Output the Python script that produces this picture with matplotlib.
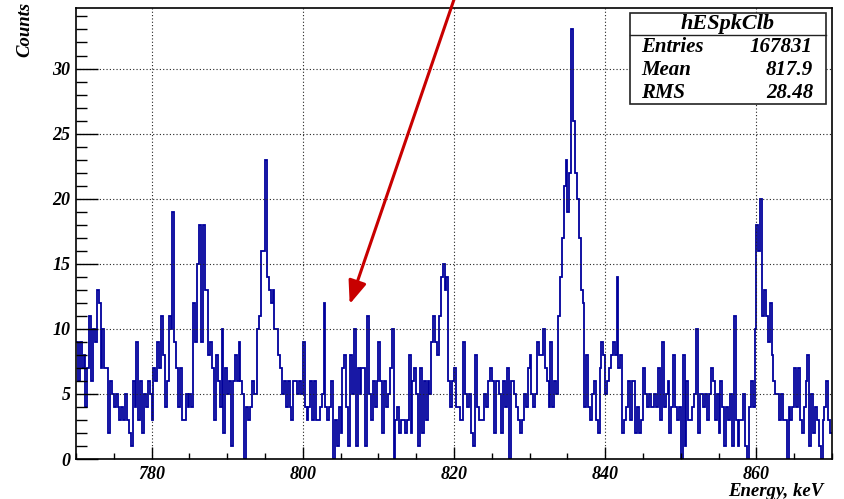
import numpy as np
import matplotlib
matplotlib.use("Agg")
import matplotlib.pyplot as plt
from matplotlib.ticker import MultipleLocator

plt.rcParams['font.family'] = ['Liberation Serif', 'DejaVu Serif']

# energy window and bin width, keV
e_lo, e_hi = 770.0, 870.0
bin_w = 0.25

# counts per 0.25 keV bin, 770..870 keV (20 bins per row = 5 keV)
counts = [
    9, 6, 9, 7, 8, 4, 7, 11, 6, 10, 9, 13, 12, 7, 10, 7, 7, 2, 6, 5,
    4, 5, 4, 3, 4, 3, 5, 3, 2, 1, 6, 4, 9, 3, 6, 2, 5, 4, 6, 5,
    3, 7, 6, 9, 7, 11, 8, 4, 6, 11, 10, 19, 9, 7, 4, 7, 3, 3, 5, 4,
    5, 4, 12, 9, 15, 18, 9, 18, 13, 13, 8, 9, 7, 3, 8, 6, 4, 10, 2, 7,
    5, 6, 1, 6, 8, 6, 9, 6, 5, 0, 4, 3, 4, 6, 5, 5, 10, 11, 16, 16,
    23, 14, 13, 12, 13, 10, 10, 8, 7, 5, 6, 4, 6, 4, 3, 6, 6, 5, 6, 5,
    9, 4, 3, 4, 6, 3, 6, 3, 3, 4, 5, 12, 4, 3, 4, 6, 0, 3, 1, 4,
    2, 7, 8, 4, 1, 8, 5, 10, 1, 7, 5, 7, 7, 1, 11, 5, 3, 6, 4, 6,
    9, 6, 2, 6, 4, 5, 7, 10, 0, 3, 4, 2, 3, 3, 2, 3, 8, 2, 6, 7,
    5, 1, 7, 2, 6, 3, 6, 5, 9, 11, 9, 8, 11, 14, 15, 13, 14, 6, 4, 6,
    7, 4, 4, 3, 3, 9, 5, 4, 5, 2, 1, 8, 4, 3, 3, 3, 5, 4, 6, 7,
    6, 2, 6, 6, 5, 2, 6, 4, 7, 0, 6, 6, 5, 4, 3, 2, 3, 5, 4, 7,
    8, 5, 4, 5, 9, 8, 8, 10, 7, 6, 4, 9, 4, 6, 5, 11, 14, 17, 21, 23,
    19, 22, 33, 26, 22, 20, 17, 13, 12, 4, 8, 4, 3, 5, 6, 3, 2, 7, 9, 8,
    5, 6, 7, 8, 9, 8, 14, 7, 8, 2, 3, 4, 6, 3, 6, 6, 2, 4, 2, 3,
    7, 5, 4, 5, 4, 4, 5, 4, 7, 3, 9, 4, 5, 6, 2, 4, 8, 4, 3, 4,
    0, 8, 1, 6, 3, 3, 4, 5, 10, 2, 5, 5, 4, 5, 3, 5, 7, 6, 3, 5,
    2, 6, 4, 1, 4, 3, 5, 1, 11, 3, 1, 3, 3, 5, 1, 0, 4, 6, 4, 10,
    18, 16, 20, 11, 13, 11, 9, 12, 8, 6, 5, 5, 3, 5, 3, 3, 0, 4, 3, 4,
    7, 4, 7, 3, 2, 4, 6, 8, 1, 5, 2, 4, 3, 1, 0, 3, 4, 6, 3, 2,
]

hist_name = "hESpkClb"
stat_names = ["Entries", "Mean", "RMS"]
stat_values = ["167831", "817.9", "28.48"]

x_ticks = [780, 800, 820, 840, 860]
y_ticks = [0, 5, 10, 15, 20, 25, 30]

edges = e_lo + bin_w * np.arange(len(counts) + 1)

W, H = 844, 499
fig = plt.figure(figsize=(W / 100, H / 100), dpi=100)
ax = fig.add_axes([76 / W, 1 - 459 / H, (832 - 76) / W, (459 - 8) / H])

ax.stairs(counts, edges, baseline=None, color='#00009c', linewidth=1.3)

ax.set_xlim(e_lo, e_hi)
ax.set_ylim(0, max(counts) * 1.05)

ax.set_xticks(x_ticks)
ax.set_yticks(y_ticks)
ax.xaxis.set_minor_locator(MultipleLocator(5))
ax.yaxis.set_minor_locator(MultipleLocator(1))
ax.tick_params(axis='x', which='major', direction='in', length=9, width=1.0,
               pad=5, labelsize=13)
ax.tick_params(axis='x', which='minor', direction='in', length=4.5, width=1.0)
ax.tick_params(axis='y', which='major', direction='in', length=16, width=1.0,
               pad=4, labelsize=13)
ax.tick_params(axis='y', which='minor', direction='in', length=8, width=1.0)
for lab in ax.get_xticklabels() + ax.get_yticklabels():
    lab.set_fontweight('bold')
    lab.set_fontstyle('italic')

ax.grid(True, which='major', color='#222222', linestyle=(0, (1, 2)), linewidth=0.8)
for sp in ax.spines.values():
    sp.set_linewidth(1.2)

fig.text(25 / W, 1 - 2 / H, "Counts", rotation=90, ha='center', va='top',
         fontsize=13.5, fontweight='bold', fontstyle='italic')
fig.text(823 / W, 1 - 491 / H, "Energy, keV", ha='right', va='center',
         fontsize=13.5, fontweight='bold', fontstyle='italic')

# stats box
bx0, bx1, by0, by1 = 630, 826, 13, 104
box = plt.Rectangle((bx0 / W, 1 - by1 / H), (bx1 - bx0) / W, (by1 - by0) / H,
                    transform=fig.transFigure, facecolor='white', edgecolor='#222222',
                    linewidth=1.2, zorder=5)
fig.add_artist(box)
fig.add_artist(plt.Line2D([bx0 / W, bx1 / W], [1 - 35 / H, 1 - 35 / H],
                          transform=fig.transFigure, color='#222222', linewidth=1.0, zorder=6))
fig.text((bx0 + bx1) / 2 / W, 1 - 24 / H, hist_name, ha='center', va='center',
         fontsize=16, fontweight='bold', fontstyle='italic', zorder=7)
for k, (nm, val) in enumerate(zip(stat_names, stat_values)):
    yy = 1 - (47 + 23 * k) / H
    fig.text(641 / W, yy, nm, ha='left', va='center', fontsize=15,
             fontweight='bold', fontstyle='italic', zorder=7)
    fig.text(813 / W, yy, val, ha='right', va='center', fontsize=15,
             fontweight='bold', fontstyle='italic', zorder=7)

# arrow pointing at the 806 keV region
ax.annotate("", xy=(806.2, 11.9), xytext=(820.0, 35.3), xycoords='data',
            annotation_clip=False,
            arrowprops=dict(arrowstyle='-|>,head_length=1.4,head_width=0.55',
                            color='#c80000', linewidth=2.2, shrinkA=0, shrinkB=0))

fig.savefig("out.png", dpi=100)
